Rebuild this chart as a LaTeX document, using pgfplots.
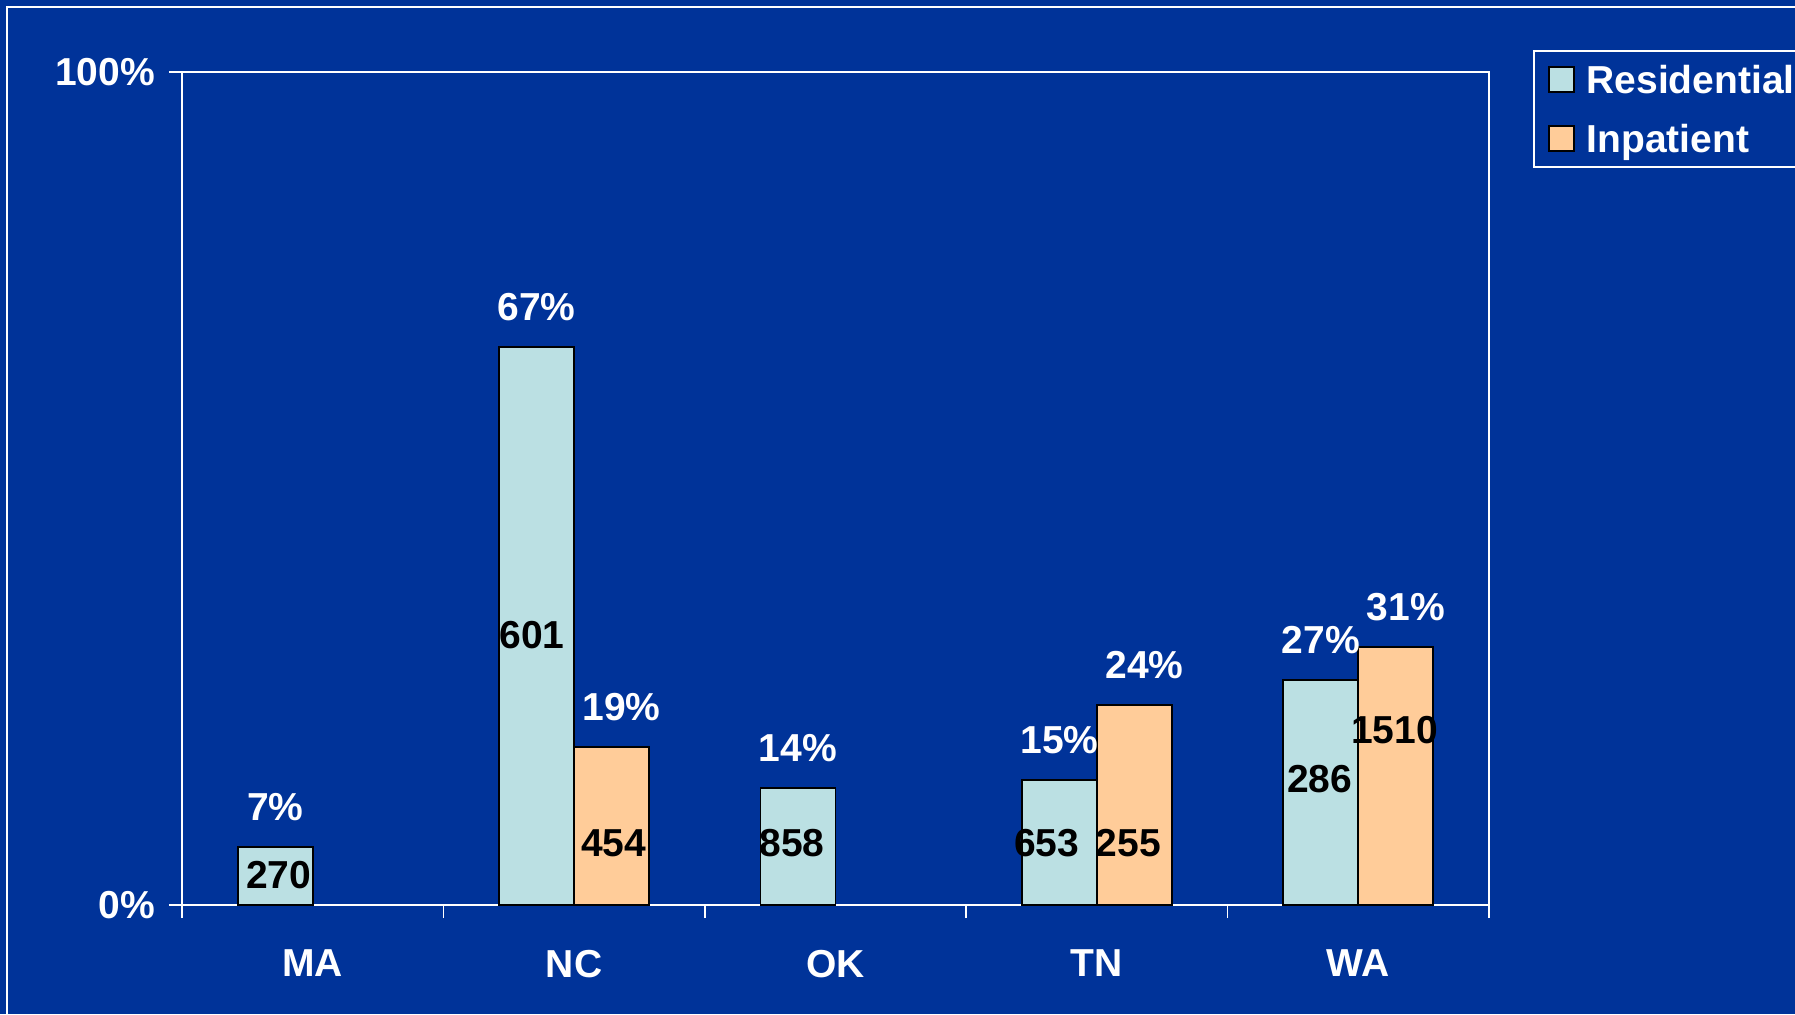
\documentclass[border=0pt]{standalone}
\usepackage{pgfplots}
\pgfplotsset{compat=1.18}
\usepackage{fontspec}
\setmainfont{Liberation Sans}
\definecolor{bg}{HTML}{003399}
\definecolor{res}{HTML}{BBE0E3}
\definecolor{inp}{HTML}{FFCC99}
\newcommand{\bigf}{\fontsize{19.5}{23}\selectfont\bfseries}
\begin{document}
\begin{tikzpicture}[x=1pt,y=1pt]
\path[use as bounding box, fill=bg] (0,0) rectangle (897.5,507);
\draw[white, line width=1pt] (3.5,-20) rectangle (930,503.5);
\begin{axis}[
  at={(91pt,54.5pt)}, anchor=south west,
  scale only axis, width=653.5pt, height=416.5pt,
  /pgf/number format/assume math mode=true,
  ybar=0pt, bar width=37.5pt,
  xmin=-0.5, xmax=4.5, ymin=0, ymax=100,
  xtick={-0.5,0.5,1.5,2.5,3.5,4.5},
  x tick label as interval,
  xticklabels={MA,NC,OK,TN,WA},
  ytick={0,100}, yticklabels={0\%,100\%},
  xtick pos=bottom, ytick pos=left,
  tick align=outside, major tick length=6.5pt,
  axis line style={white, line width=0.75pt},
  every tick/.style={white, line width=0.75pt},
  tick label style={white, font=\bigf},
  xticklabel style={yshift=-12.5pt},
  yticklabel style={xshift=-3.5pt},
  nodes near coords={\pgfmathprintnumber{\pgfplotspointmeta}\%},
  nodes near coords style={white, font=\bigf, anchor=center, yshift=20pt},
  legend style={at={(1.0337,1.0264)}, anchor=north west, draw=white, line width=0.75pt,
    fill=bg, text=white, font=\bigf, inner xsep=7pt, inner ysep=7pt, row sep=15pt,
    cells={anchor=west}, nodes={inner sep=0pt, text height=14.5pt, text depth=0pt},
    /tikz/every odd column/.append style={column sep=6pt}},
  legend image code/.code={\draw[#1, draw=black, line width=0.9pt] (0pt,-6.25pt) rectangle (12.5pt,6.25pt);},
]
\addplot[fill=res, draw=black, line width=0.9pt] coordinates {(0,7) (1,67) (2,14) (3,15) (4,27)};
\addplot[fill=inp, draw=black, line width=0.9pt, nodes near coords style={xshift=5pt}] coordinates {(1,19) (3,24) (4,31)};
\legend{Residential, Inpatient}
\node[font=\bigf] at (-0.130,3.57) {270};
\node[font=\bigf] at (0.839,32.4) {601};
\node[font=\bigf] at (1.152,7.42) {454};
\node[font=\bigf] at (1.834,7.42) {858};
\node[font=\bigf] at (2.808,7.42) {653};
\node[font=\bigf] at (3.121,7.42) {255};
\node[font=\bigf] at (3.852,15.1) {286};
\node[font=\bigf] at (4.139,21.0) {1510};
\end{axis}
\end{tikzpicture}
\end{document}
